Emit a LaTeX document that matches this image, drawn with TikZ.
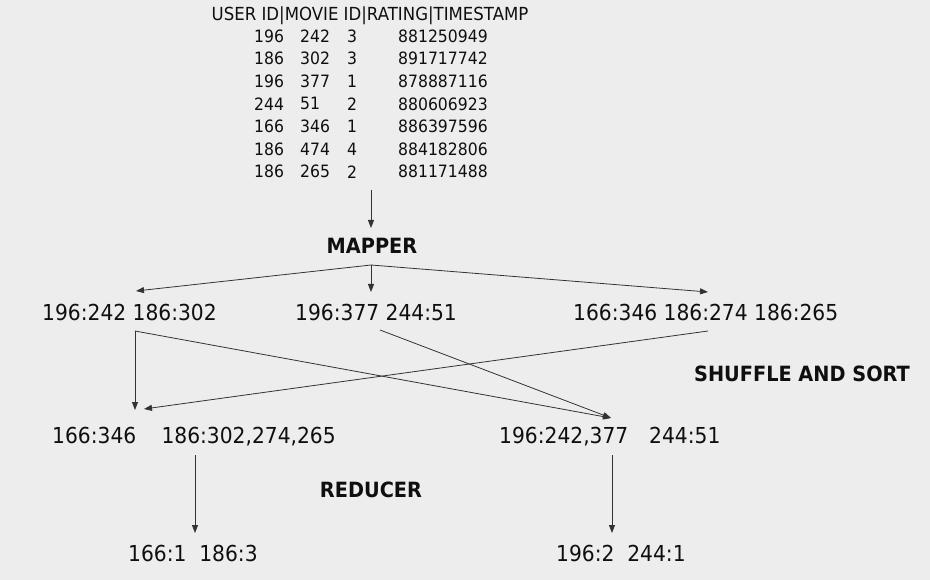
\documentclass[tikz,border=0pt]{standalone}
\usepackage{fontspec}
\setmainfont[FakeStretch=0.92]{DejaVu Sans}
\usetikzlibrary{arrows.meta}
\definecolor{bgcol}{RGB}{237,237,237}
\definecolor{inkcol}{RGB}{15,15,15}

\begin{document}
\begin{tikzpicture}[x=1pt,y=-1pt,
    txt/.style={inner sep=0pt,anchor=west,text=inkcol,font=\fontsize{22}{24}\selectfont},
    cell/.style={inner sep=0pt,anchor=west,text=inkcol,font=\fontsize{17}{19}\selectfont},
    stage/.style={inner sep=0pt,text=inkcol,font=\fontsize{21}{23}\selectfont\bfseries},
    flow/.style={draw=black!80,line width=0.8pt,-{Triangle[length=8pt,width=6pt]}}]
  \fill[bgcol] (0,0) rectangle (930,580);
  \useasboundingbox (0,0) rectangle (930,580);

  % input records
  \node[cell,anchor=center,font=\fontsize{18}{20}\selectfont] (head) at (370,16) {USER ID|MOVIE ID|RATING|TIMESTAMP};
  \foreach \u/\m/\r/\t [count=\i] in {196/242/3/881250949,186/302/3/891717742,196/377/1/878887116,244/51/2/880606923,166/346/1/886397596,186/474/4/884182806,186/265/2/881171488} {
    \node[cell] (u\i) at (254,13.5+22.6*\i) {\u};
    \node[cell] (m\i) at (300,13.5+22.6*\i) {\m};
    \node[cell] (r\i) at (347,13.5+22.6*\i) {\r};
    \node[cell] (t\i) at (398,13.5+22.6*\i) {\t};
  }

  % stages
  \node[stage] (mapper) at (372,246) {MAPPER};
  \node[stage] (shuffle) at (802,374) {SHUFFLE AND SORT};
  \node[stage] (reducer) at (371,490) {REDUCER};

  % map output
  \node[txt] (mo1) at (42,312) {196:242 186:302};
  \node[txt] (mo2) at (295,312) {196:377 244:51};
  \node[txt] (mo3) at (573,312) {166:346 186:274 186:265};

  % reduce input
  \node[txt] (ri1) at (52,437) {166:346\hspace{1.15em}186:302,274,265};
  \node[txt] (ri2) at (499,437) {196:242,377\hspace{0.95em}244:51};

  % reduce output
  \node[txt] (ro1) at (128,553) {166:1\ \ 186:3};
  \node[txt] (ro2) at (556,553) {196:2\ \ 244:1};

  \coordinate (tabout) at (371,190);
  \coordinate (mapin) at (371,228);
  \coordinate (split) at (371,265);
  \coordinate (mo1in) at (136,291);
  \coordinate (mo2in) at (371,292);
  \coordinate (mo3in) at (708,292);
  \coordinate (mo1out) at (135,331);
  \coordinate (mo2out) at (380,330);
  \coordinate (mo3out) at (708,331);
  \coordinate (ri1in) at (135,410);
  \coordinate (ri1side) at (144,409);
  \coordinate (ri2in) at (611,418);
  \coordinate (ri1out) at (195,455);
  \coordinate (ro1in) at (195,533);
  \coordinate (ri2out) at (612,455);
  \coordinate (ro2in) at (612,533);

  \draw[flow] (tabout) -- (mapin);
  \draw[flow] (split) -- (mo1in);
  \draw[flow] (split) -- (mo2in);
  \draw[flow] (split) -- (mo3in);
  \draw[flow] (mo1out) -- (ri1in);
  \draw[flow] (mo1out) -- (ri2in);
  \draw[flow] (mo2out) -- (ri2in);
  \draw[flow] (mo3out) -- (ri1side);
  \draw[flow] (ri1out) -- (ro1in);
  \draw[flow] (ri2out) -- (ro2in);
\end{tikzpicture}
\end{document}
